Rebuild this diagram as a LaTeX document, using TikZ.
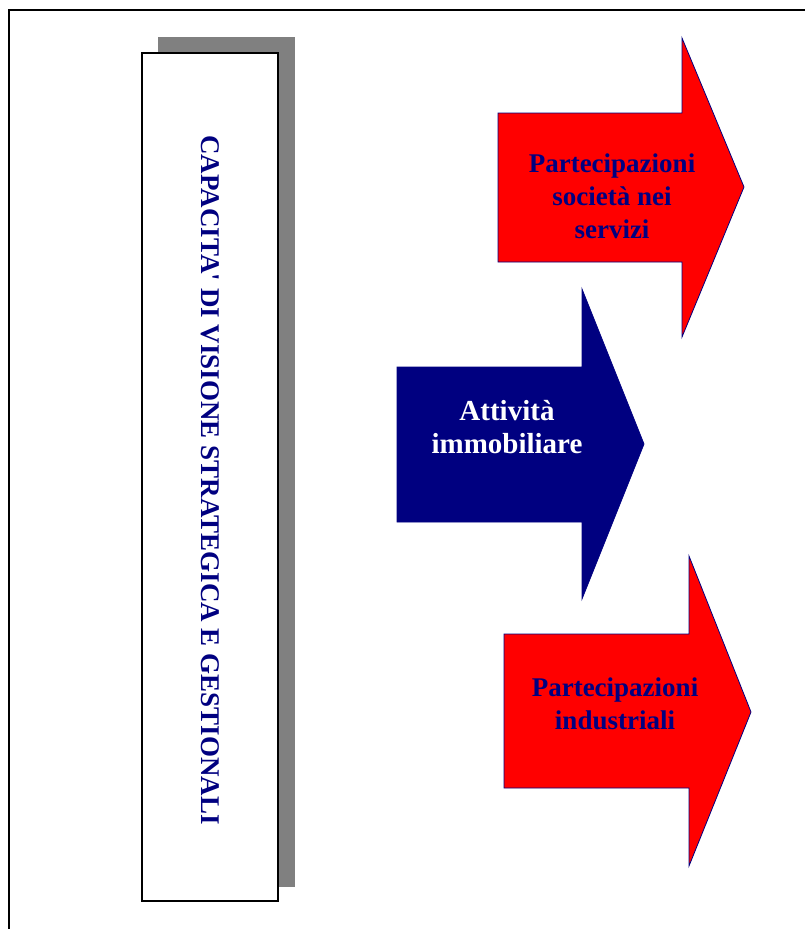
\documentclass[tikz,border=0pt]{standalone}
\usepackage{fontspec}
\setmainfont{Liberation Serif}
\usepackage{tikz}
\usetikzlibrary{positioning}
\definecolor{navyA}{RGB}{0,0,128}
\definecolor{redA}{RGB}{255,0,0}
\definecolor{shadowgray}{RGB}{128,128,128}

\begin{document}
\begin{tikzpicture}[x=1pt,y=-1pt,
  arr/.style={draw=navyA,line width=0.8pt,line join=miter},
  arrred/.style={arr,fill=redA},
  arrblue/.style={arr,fill=navyA},
  lbl/.style={font=\fontsize{27}{33}\selectfont\bfseries,align=center,inner sep=0pt},
  lblred/.style={lbl,text=navyA},
  lblblue/.style={lbl,text=white,font=\fontsize{29}{33}\selectfont\bfseries}]
  \useasboundingbox (0,0) rectangle (805,929);
  % page frame (cut at right and bottom)
  \draw[line width=1.4pt] (9,929) -- (9,10) -- (805,10);
  % column with shadow
  \fill[shadowgray] (158,37) rectangle (295,887);
  \draw[line width=1.6pt,fill=white] (142,53) rectangle (278,901);
  \node[lblred,rotate=-90] (vision) at (210,480) {CAPACITA\textquotesingle{} DI VISIONE STRATEGICA E GESTIONALI};
  % top arrow
  \draw[arrred] (498,113) -- (682,113) -- (682,38) -- (744,187) -- (682,337) -- (682,262) -- (498,262) -- cycle;
  \node[lblred] (servizi) at (612,196) {Partecipazioni\\società nei\\servizi};
  % middle arrow
  \draw[arrblue] (397,367) -- (582,367) -- (582,289) -- (644,444) -- (582,599) -- (582,522) -- (397,522) -- cycle;
  \node[lblblue] (immob) at (507,427) {Attività\\immobiliare};
  % bottom arrow
  \draw[arrred] (504,634) -- (689,634) -- (689,556) -- (751,712) -- (689,866) -- (689,788) -- (504,788) -- cycle;
  \node[lblred] (industr) at (615,704) {Partecipazioni\\industriali};
\end{tikzpicture}
\end{document}
